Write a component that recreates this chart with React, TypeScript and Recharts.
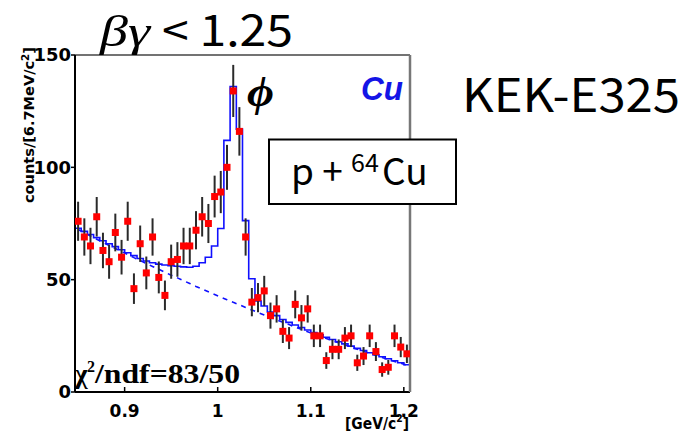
import React from 'react';
import { ComposedChart, XAxis, YAxis, Line, Scatter, ErrorBar } from 'recharts';

// invariant mass bin centres [GeV/c^2], 6.7 MeV bins
const MASS = [
  0.85, 0.8567, 0.8633, 0.87, 0.8767, 0.8833, 0.89, 0.8967, 0.9033, 0.91,
  0.9167, 0.9233, 0.93, 0.9367, 0.9433, 0.95, 0.9567, 0.9633, 0.97, 0.9767,
  0.9833, 0.99, 0.9967, 1.0033, 1.01, 1.0167, 1.0233, 1.03, 1.0367, 1.0433,
  1.05, 1.0567, 1.0633, 1.07, 1.0767, 1.0833, 1.09, 1.0967, 1.1033, 1.11,
  1.1167, 1.1233, 1.13, 1.1367, 1.1433, 1.15, 1.1567, 1.1633, 1.17, 1.1767,
  1.1833, 1.19, 1.1967, 1.2033,
];

const COUNTS = [
  76, 69, 65, 78, 63, 58, 71, 60, 76, 46,
  66, 53, 69, 51, 43, 58, 59, 65, 65, 72,
  78, 75, 87, 89, 100, 134, 116, 69, 40, 42,
  45, 34, 37, 27, 24, 39, 33, 37, 25, 25,
  14, 19, 19, 24, 25, 13, 16, 25, 18, 10,
  11, 25, 20, 17,
];

const ERRORS = [
  8.7, 8.3, 8.1, 8.8, 7.9, 7.6, 8.4, 7.7, 8.7, 6.8,
  8.1, 7.3, 8.3, 7.1, 6.6, 7.6, 7.7, 8.1, 8.1, 8.5,
  8.8, 8.7, 9.3, 9.4, 10, 11.6, 10.8, 8.3, 6.3, 6.5,
  6.7, 5.8, 6.1, 5.2, 4.9, 6.2, 5.7, 6.1, 5, 5,
  3.7, 4.4, 4.4, 4.9, 5, 3.6, 4, 5, 4.2, 3.2,
  3.3, 5, 4.5, 4.1,
];

// total fit (histogram)
const FIT = [
  72.9, 71.5, 70.1, 68.7, 67.3, 66.0, 64.7, 63.3, 62.0, 60.7,
  59.4, 58.3, 57.5, 56.9, 56.5, 56.2, 56.0, 55.7, 55.5, 56.0,
  57.5, 60.0, 65.0, 72.8, 112, 136, 117, 76.3, 50.4, 40.5,
  38.3, 35.6, 34.0, 32.3, 31.0, 29.8, 28.7, 27.6, 26.5, 25.5,
  24.4, 23.4, 22.4, 21.4, 20.4, 19.4, 18.5, 17.5, 16.6, 15.7,
  14.8, 13.9, 13.0, 12.1,
];

// background component (dashed)
const BACKGROUND = [
  72.3, 70.9, 69.4, 68.0, 66.6, 65.2, 63.9, 62.5, 61.2, 59.8,
  58.5, 57.2, 55.9, 54.6, 53.3, 52.0, 50.8, 49.5, 48.3, 47.0,
  45.8, 44.6, 43.4, 42.2, 41.1, 39.9, 38.8, 37.6, 36.5, 35.4,
  34.3, 33.2, 32.1, 31.0, 30.0, 28.9, 27.9, 26.8, 25.8, 24.8,
  23.8, 22.8, 21.9, 20.9, 20.0, 19.0, 18.1, 17.2, 16.3, 15.4,
  14.5, 13.6, 12.8, 11.9,
];

const X_TICKS = [0.9, 1, 1.1, 1.2];
const Y_TICKS = [0, 50, 100, 150];
const BIN_WIDTH = 1 / 150;
const X_DOMAIN = [MASS[0] - BIN_WIDTH / 2, MASS[MASS.length - 1] + BIN_WIDTH / 2];

const points = MASS.map((m, i) => ({ mass: m, counts: COUNTS[i], err: ERRORS[i] }));
const bgData = MASS.map((m, i) => ({ mass: m, bg: BACKGROUND[i] }));
const histData = [
  { mass: MASS[0] - BIN_WIDTH / 2, fit: 0 },
  ...MASS.map((m, i) => ({ mass: m + BIN_WIDTH / 2, fit: FIT[i] })),
];

const BLUE = '#1010ff';
const TICK_FONT = 'DejaVu Sans, Arial, sans-serif';
const JP_FONT = 'Noto Sans CJK JP, Noto Sans, sans-serif';

const Square = (props: any) => {
  const { cx, cy } = props;
  if (cx == null || cy == null) return null;
  return <rect x={cx - 3.5} y={cy - 3.5} width={7} height={7} fill="#ff0000" />;
};

const BottomTick = (props: any) => {
  const { x, y, payload } = props;
  return (
    <g>
      <line x1={x} x2={x} y1={y - 12} y2={y - 17} stroke="#000" strokeWidth={1.5} />
      <text x={x} y={y + 13} textAnchor="middle" fontFamily={TICK_FONT} fontWeight="bold" fontSize={17} fill="#000">
        {String(payload.value)}
      </text>
    </g>
  );
};

export default function App() {
  return (
    <div style={{ position: 'absolute', left: 0, top: 0, width: 687, height: 434, background: '#fff' }}>
      <ComposedChart width={687} height={434} margin={{ top: 54, right: 276, bottom: 12, left: 35 }}>
        <XAxis
          dataKey="mass"
          type="number"
          domain={X_DOMAIN}
          ticks={X_TICKS}
          allowDataOverflow
          height={30}
          tickSize={0}
          tickMargin={12}
          tick={<BottomTick />}
          axisLine={{ stroke: '#000', strokeWidth: 2 }}
        />
        <XAxis
          xAxisId="top"
          orientation="top"
          dataKey="mass"
          type="number"
          domain={X_DOMAIN}
          ticks={X_TICKS}
          allowDataOverflow
          height={1}
          tick={false}
          tickSize={3}
          tickLine={{ stroke: '#444' }}
          axisLine={{ stroke: '#444', strokeWidth: 1.5 }}
        />
        <YAxis
          type="number"
          domain={[0, 150]}
          ticks={Y_TICKS}
          allowDataOverflow
          width={40}
          tickSize={4}
          tickMargin={0}
          tick={{ fontFamily: TICK_FONT, fontWeight: 'bold', fontSize: 18, fill: '#000' }}
          tickLine={{ stroke: '#000', strokeWidth: 1.5 }}
          axisLine={{ stroke: '#000', strokeWidth: 2 }}
        />
        <YAxis
          yAxisId="frame"
          orientation="right"
          type="number"
          domain={[0, 150]}
          width={1}
          tick={false}
          tickLine={false}
          axisLine={{ stroke: '#777', strokeWidth: 2.5 }}
        />
        <Line
          data={bgData}
          dataKey="bg"
          type="linear"
          stroke={BLUE}
          strokeWidth={1.6}
          strokeDasharray="5 5"
          dot={false}
          isAnimationActive={false}
        />
        <Line
          data={histData}
          dataKey="fit"
          type="stepBefore"
          stroke={BLUE}
          strokeWidth={1.6}
          dot={false}
          isAnimationActive={false}
        />
        <Scatter data={points} dataKey="counts" shape={<Square />} isAnimationActive={false}>
          <ErrorBar dataKey="err" direction="y" width={0} stroke="#2a2a2a" strokeWidth={2} />
        </Scatter>
      </ComposedChart>

      <svg
        width={687}
        height={434}
        style={{ position: 'absolute', left: 0, top: 0, pointerEvents: 'none' }}
      >
        {/* title */}
        <text x={100} y={46} fontSize={44} fontFamily="Liberation Serif, serif" fontStyle="italic" textLength={50} lengthAdjust="spacingAndGlyphs">
          βγ
        </text>
        <text x={162} y={46} fontSize={43} fontFamily={JP_FONT} textLength={131} lengthAdjust="spacingAndGlyphs">
          {'< 1.25'}
        </text>

        <text x={462} y={112} fontSize={46} fontFamily={JP_FONT} textLength={218} lengthAdjust="spacingAndGlyphs">
          KEK-E325
        </text>

        {/* phi label */}
        <text x={247} y={106} fontSize={42} fontWeight="bold" fontStyle="italic" fontFamily="Liberation Serif, DejaVu Serif, serif" textLength={27} lengthAdjust="spacingAndGlyphs">
          ϕ
        </text>
        <text x={361} y={100} fontSize={33} fontWeight="bold" fontStyle="italic" fill="#1414e6" fontFamily="Liberation Sans, Arial, sans-serif" textLength={42} lengthAdjust="spacingAndGlyphs">
          Cu
        </text>

        {/* target box */}
        <rect x={269} y={139.5} width={187} height={64.5} fill="#fff" stroke="#000" strokeWidth={2} />
        <text x={291} y={185} fontSize={37} fontFamily={JP_FONT}>
          {'p + '}
        </text>
        <text x={351} y={172} fontSize={25} fontFamily={JP_FONT}>
          64
        </text>
        <text x={382} y={185} fontSize={37} fontFamily={JP_FONT}>
          Cu
        </text>

        {/* chi2 */}
        <text x={75} y={383} fontSize={27} fontWeight="bold" fontFamily="Liberation Serif, serif">
          χ
        </text>
        <text x={87} y={372} fontSize={16} fontWeight="bold" fontFamily="Liberation Serif, serif">
          2
        </text>
        <text x={95} y={383} fontSize={27} fontWeight="bold" fontFamily="Liberation Serif, serif" textLength={145} lengthAdjust="spacingAndGlyphs">
          /ndf=83/50
        </text>

        {/* y axis title */}
        <g transform="translate(34,125) rotate(-90)">
          <text x={0} y={0} textAnchor="middle" fontSize={14} fontWeight="bold" fontFamily={TICK_FONT} textLength={156} lengthAdjust="spacingAndGlyphs">
            counts/[6.7MeV/c<tspan dy={-5} fontSize={10}>2</tspan><tspan dy={5}>]</tspan>
          </text>
        </g>

        {/* x axis unit */}
        <text x={345} y={429} fontSize={15} fontWeight="bold" fontFamily={TICK_FONT} textLength={64} lengthAdjust="spacingAndGlyphs">
          [GeV/c<tspan dy={-7} fontSize={10}>2</tspan><tspan dy={7}>]</tspan>
        </text>
      </svg>
    </div>
  );
}
